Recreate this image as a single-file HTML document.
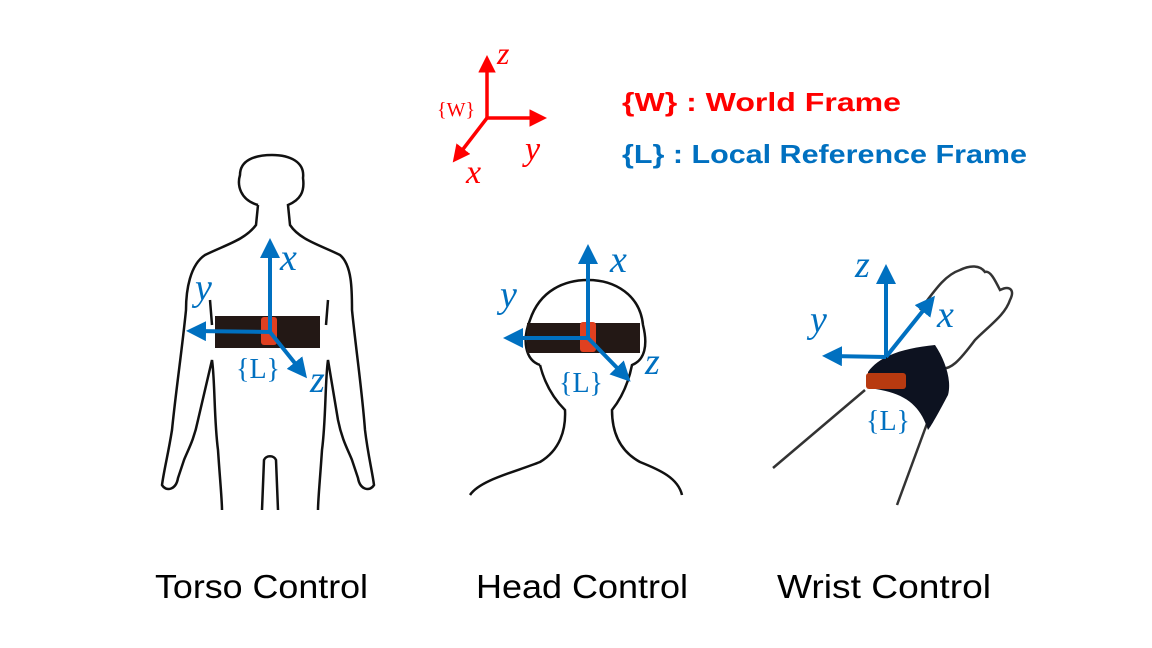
<!DOCTYPE html>
<html><head><style>
body{margin:0;width:1152px;height:648px;background:#fff;overflow:hidden}
svg{display:block}
</style></head><body>
<svg width="1152" height="648" viewBox="0 0 1152 648" xmlns="http://www.w3.org/2000/svg">
<defs>
<marker id="ab" markerWidth="5" markerHeight="5" refX="3" refY="2.5" orient="auto" markerUnits="strokeWidth"><path d="M0,0 L5,2.5 L0,5 z" fill="#0070c0"/></marker>
<marker id="ar" markerWidth="5" markerHeight="5" refX="3" refY="2.5" orient="auto" markerUnits="strokeWidth"><path d="M0,0 L5,2.5 L0,5 z" fill="#ff0000"/></marker>
</defs>

<!-- World frame -->
<g stroke="#ff0000" stroke-width="3.5" fill="none">
<line x1="487" y1="118" x2="487" y2="62" marker-end="url(#ar)"/>
<line x1="487" y1="118" x2="540" y2="118" marker-end="url(#ar)"/>
<line x1="487" y1="118" x2="457" y2="157" marker-end="url(#ar)"/>
</g>
<g fill="#ff0000" font-family="Liberation Serif,serif" font-style="italic">
<text x="497" y="64" font-size="32">z</text>
<text x="525" y="160" font-size="34">y</text>
<text x="466" y="183" font-size="34">x</text>
<text x="437" y="116" font-size="20" font-style="normal">{W}</text>
</g>
<text x="622" y="111" font-family="Liberation Sans,sans-serif" font-weight="bold" font-size="26" fill="#ff0000" textLength="279" lengthAdjust="spacingAndGlyphs">{W} : World Frame</text>
<text x="622" y="163" font-family="Liberation Sans,sans-serif" font-weight="bold" font-size="26" fill="#0070c0" textLength="405" lengthAdjust="spacingAndGlyphs">{L} : Local Reference Frame</text>

<!-- Torso body -->
<g fill="none" stroke="#111" stroke-width="2.5">
<path d="M258,205 C240,200 237,185 240,175 C240,160 255,155 272,155 C290,155 305,162 303,178 C305,192 300,200 288,205 L290,225 C300,240 320,245 340,255 C352,265 352,290 352,310 C356,350 362,390 365,430 C368,455 372,470 374,485 C370,492 360,490 358,478 L352,460 C348,450 342,440 338,420 L328,360 C325,380 326,420 322,450 C320,480 318,500 318,510"/>
<path d="M258,205 L256,225 C245,240 225,245 205,255 C190,265 186,290 186,310 C182,350 176,390 172,430 C168,455 164,470 162,485 C166,492 176,490 178,478 L184,460 C188,450 194,440 198,420 L212,360 C215,380 214,420 218,450 C220,480 222,500 222,510"/>
<path d="M262,510 L264,460 C266,455 274,455 276,460 L278,510"/>
<path d="M210,300 L212,325 M328,300 L326,325"/>
</g>
<rect x="215" y="316" width="105" height="32" fill="#231815"/>
<rect x="261" y="317" width="16" height="28" rx="3" fill="#e04020"/>
<g stroke="#0070c0" stroke-width="4" fill="none">
<line x1="270" y1="332" x2="270" y2="246" marker-end="url(#ab)"/>
<line x1="270" y1="332" x2="194" y2="331" marker-end="url(#ab)"/>
<line x1="270" y1="332" x2="302" y2="372" marker-end="url(#ab)"/>
</g>
<g fill="#0070c0" font-family="Liberation Serif,serif" font-style="italic" font-size="38">
<text x="280" y="270">x</text><text x="195" y="300">y</text><text x="310" y="392">z</text>
<text x="236" y="378" font-style="normal" font-size="28">{L}</text>
</g>

<!-- Head -->
<g fill="none" stroke="#111" stroke-width="2.5">
<path d="M540,365 C525,360 522,340 530,320 C540,290 565,280 588,280 C615,280 640,295 643,325 C648,345 645,360 632,365 C628,385 620,400 612,410 C612,430 618,450 640,462 C660,470 678,478 682,495"/>
<path d="M540,365 C545,385 555,400 565,410 C566,430 560,450 540,462 C515,472 480,480 470,495"/>
</g>
<rect x="527" y="323" width="113" height="30" fill="#231815"/>
<rect x="580" y="322" width="16" height="30" rx="3" fill="#e04020"/>
<g stroke="#0070c0" stroke-width="4" fill="none">
<line x1="588" y1="338" x2="588" y2="252" marker-end="url(#ab)"/>
<line x1="588" y1="338" x2="511" y2="338" marker-end="url(#ab)"/>
<line x1="588" y1="338" x2="625" y2="376" marker-end="url(#ab)"/>
</g>
<g fill="#0070c0" font-family="Liberation Serif,serif" font-style="italic" font-size="38">
<text x="610" y="272">x</text><text x="500" y="307">y</text><text x="645" y="374">z</text>
<text x="559" y="392" font-style="normal" font-size="28">{L}</text>
</g>

<!-- Wrist -->
<g fill="none" stroke="#333" stroke-width="2.5">
<path d="M773,468 L865,390"/>
<path d="M897,505 L932,410"/>
<path d="M938,368 C950,372 960,360 975,340 C990,325 1005,315 1010,300 C1015,290 1010,285 1000,290 C995,280 990,270 985,272 C980,265 970,265 960,270 C945,275 935,290 920,310"/>
</g>
<path d="M868,372 C880,355 905,348 935,345 C945,360 952,380 948,395 C940,410 932,425 928,430 C920,405 905,392 868,388 Z" fill="#0d1220"/>
<rect x="866" y="373" width="40" height="16" rx="3" fill="#b83a10"/>
<g stroke="#0070c0" stroke-width="4" fill="none">
<line x1="886" y1="357" x2="886" y2="272" marker-end="url(#ab)"/>
<line x1="886" y1="357" x2="830" y2="356" marker-end="url(#ab)"/>
<line x1="886" y1="357" x2="930" y2="302" marker-end="url(#ab)"/>
</g>
<g fill="#0070c0" font-family="Liberation Serif,serif" font-style="italic" font-size="38">
<text x="855" y="277">z</text><text x="810" y="332">y</text><text x="937" y="327">x</text>
<text x="866" y="430" font-style="normal" font-size="28">{L}</text>
</g>

<g font-family="Liberation Sans,sans-serif" font-size="33" fill="#000">
<text x="155" y="598" textLength="213" lengthAdjust="spacingAndGlyphs">Torso Control</text>
<text x="476" y="598" textLength="212" lengthAdjust="spacingAndGlyphs">Head Control</text>
<text x="777" y="598" textLength="214" lengthAdjust="spacingAndGlyphs">Wrist Control</text>
</g>
</svg>
</body></html>
